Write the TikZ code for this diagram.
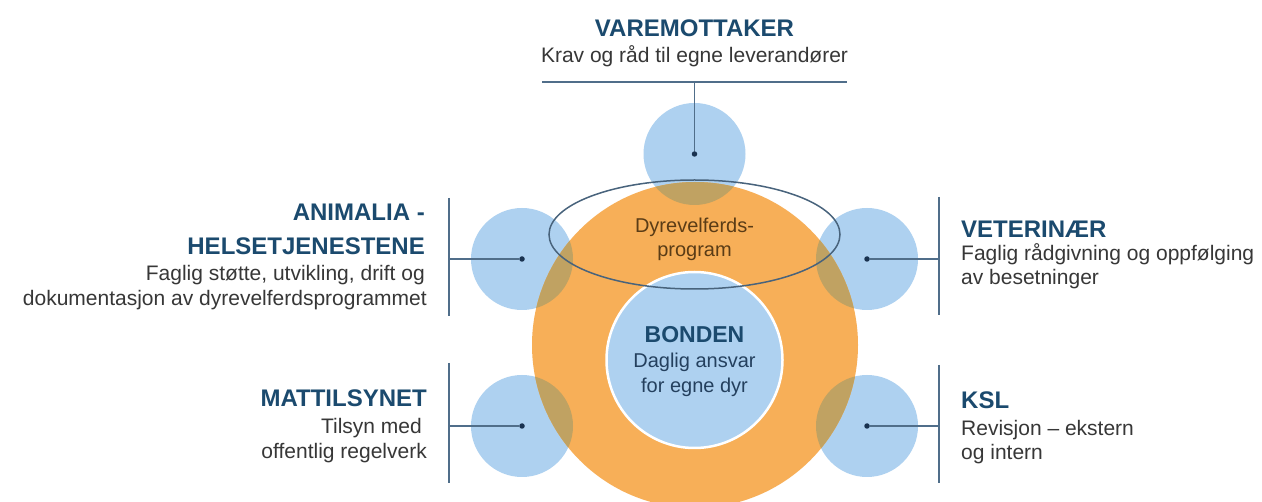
\documentclass[tikz,border=0pt]{standalone}
\usepackage{fontspec}
\setmainfont{Liberation Sans}
\definecolor{headblue}{RGB}{27,74,110}
\definecolor{bodygray}{RGB}{55,55,55}
\definecolor{lightblue}{RGB}{174,209,240}
\definecolor{orangec}{RGB}{247,175,88}
\definecolor{overlapc}{RGB}{192,162,98}
\definecolor{linec}{RGB}{80,110,138}
\definecolor{dotc}{RGB}{25,50,80}
\definecolor{brownt}{RGB}{90,60,22}
\definecolor{centert}{RGB}{36,64,94}
\tikzset{
  bluec/.style={circle,fill=lightblue,draw=none,minimum size=102pt,inner sep=0pt},
  dotnode/.style={circle,fill=dotc,draw=none,minimum size=5.5pt,inner sep=0pt},
  conn/.style={draw=linec,line width=1.4pt},
  head/.style={font=\fontsize{24}{28}\selectfont\bfseries,text=headblue,inner sep=0pt},
  body/.style={font=\fontsize{21}{24}\selectfont,text=bodygray,inner sep=0pt},
  ctext/.style={font=\fontsize{20}{24}\selectfont,inner sep=0pt},
}
\begin{document}
\begin{tikzpicture}[x=1pt,y=-1pt]
\useasboundingbox[fill=white] (0,0) rectangle (1262,502);
% outer blue circles
\node[bluec] (cT) at (694.5,154) {};
\node[bluec] (cLU) at (522,259) {};
\node[bluec] (cLL) at (522,426) {};
\node[bluec] (cRU) at (867,259) {};
\node[bluec] (cRL) at (867,426) {};
% orange circle
\node[circle,fill=orangec,minimum size=326pt,inner sep=0pt] (orange) at (695,345) {};
% overlaps
\begin{scope}
  \clip (695,345) circle[radius=163pt];
  \foreach \p in {(694.5,154),(522,259),(522,426),(867,259),(867,426)}
    \fill[overlapc] \p circle[radius=51pt];
\end{scope}
% inner circle
\node[circle,fill=lightblue,draw=white,line width=2.5pt,minimum size=176pt,inner sep=0pt] (inner) at (694.5,360) {};
% ellipse
\draw[draw=linec!90!black,line width=1.5pt] (694.5,234.5) ellipse[x radius=145.5pt,y radius=54.5pt];
\coordinate (ell) at (694.5,234.5);
% dots
\node[dotnode] (dT) at (694.5,154) {};
\node[dotnode] (dLU) at (522,259) {};
\node[dotnode] (dLL) at (522,426) {};
\node[dotnode] (dRU) at (867,259) {};
\node[dotnode] (dRL) at (867,426) {};
% connector lines
\coordinate (tL) at (542,82); \coordinate (tR) at (847,82); \coordinate (tM) at (694.5,82);
\draw[conn] (tL) -- (tR);
\draw[conn] (tM) -- (dT);
\coordinate (luA) at (449,198); \coordinate (luB) at (449,316); \coordinate (luM) at (449,259);
\draw[conn] (luA) -- (luB);
\draw[conn] (luM) -- (dLU);
\coordinate (llA) at (449,363); \coordinate (llB) at (449,483); \coordinate (llM) at (449,426);
\draw[conn] (llA) -- (llB);
\draw[conn] (llM) -- (dLL);
\coordinate (ruA) at (939,197); \coordinate (ruB) at (939,315); \coordinate (ruM) at (939,259);
\draw[conn] (ruA) -- (ruB);
\draw[conn] (ruM) -- (dRU);
\coordinate (rlA) at (939,365); \coordinate (rlB) at (939,483); \coordinate (rlM) at (939,426);
\draw[conn] (rlA) -- (rlB);
\draw[conn] (rlM) -- (dRL);
% top texts
\node[head,anchor=base] (vH) at (694.5,37) {VAREMOTTAKER};
\node[body,anchor=base] (vB) at (694.5,63) {Krav og råd til egne leverandører};
% left upper
\node[head,anchor=base east] (aH1) at (425,221) {ANIMALIA -};
\node[head,anchor=base east] (aH2) at (425,255) {HELSETJENESTENE};
\node[body,anchor=base east] (aB1) at (425,281) {Faglig støtte, utvikling, drift og};
\node[body,anchor=base east] (aB2) at (427,306) {dokumentasjon av dyrevelferdsprogrammet};
% left lower
\node[head,anchor=base east] (mH) at (427,407) {MATTILSYNET};
\node[body,anchor=base east] (mB1) at (422,434) {Tilsyn med};
\node[body,anchor=base east] (mB2) at (427,459) {offentlig regelverk};
% right upper
\node[head,anchor=base west] (veH) at (961,238) {VETERINÆR};
\node[body,anchor=base west] (veB1) at (961,261) {Faglig rådgivning og oppfølging};
\node[body,anchor=base west] (veB2) at (961,285) {av besetninger};
% right lower
\node[head,anchor=base west] (kH) at (961,409) {KSL};
\node[body,anchor=base west] (kB1) at (961,436) {Revisjon – ekstern};
\node[body,anchor=base west] (kB2) at (961,460) {og intern};
% center texts
\node[ctext,text=brownt,anchor=base] (dp1) at (694.5,233) {Dyrevelferds-};
\node[ctext,text=brownt,anchor=base] (dp2) at (694.5,257) {program};
\node[head,anchor=base,font=\fontsize{23}{26}\selectfont\bfseries,text=headblue] (bH) at (694.5,343) {BONDEN};
\node[ctext,text=centert,anchor=base] (bB1) at (694.5,368) {Daglig ansvar};
\node[ctext,text=centert,anchor=base] (bB2) at (694.5,393) {for egne dyr};
\end{tikzpicture}
\end{document}
